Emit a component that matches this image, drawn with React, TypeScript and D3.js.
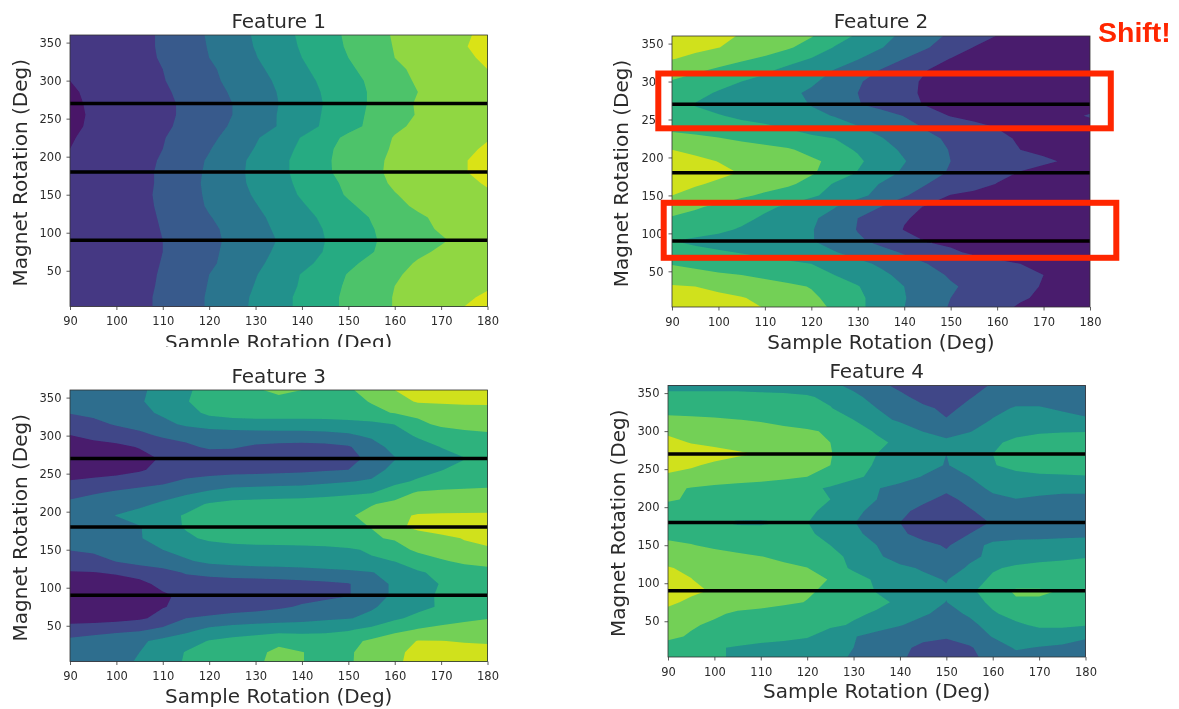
import React, { useRef, useEffect } from "react";
import * as d3 from "d3";

// grid the contour values were read on
const sampleGrid = [90, 95, 100, 105, 110, 115, 120, 125, 130, 135, 140, 145, 150, 155, 160, 165, 170, 175, 180];
const magnetGrid = [0, 15, 30, 45, 60, 75, 90, 105, 120, 135, 150, 165, 180, 195, 210, 225, 240, 255, 270, 285, 300, 315, 330, 345, 360];

const xTicks = [90, 100, 110, 120, 130, 140, 150, 160, 170, 180];
const yTicks = [50, 100, 150, 200, 250, 300, 350];
const magnetLines = [90, 180, 270];

// one row per magnet angle, values in contour-level units
const feature1 = [
  [1.2,1.4,1.5,1.75,2.2,2.6,3.1,3.6,4.2,4.7,5.2,5.7,6.2,6.6,7.05,7.3,7.6,8.05,8.4],
  [1.2,1.4,1.5,1.75,2.2,2.6,3.1,3.6,4.15,4.7,5.2,5.7,6.2,6.6,7.05,7.3,7.55,7.8,8.2],
  [1.2,1.4,1.5,1.7,2.15,2.55,3.05,3.5,4.05,4.6,5.1,5.6,6.15,6.55,7.0,7.25,7.45,7.65,7.85],
  [1.2,1.4,1.5,1.7,2.1,2.5,3.0,3.45,3.95,4.5,5.05,5.55,6.05,6.5,6.9,7.2,7.4,7.6,7.8],
  [1.2,1.4,1.5,1.65,2.05,2.45,2.85,3.3,3.8,4.3,4.75,5.25,5.8,6.25,6.65,7.1,7.35,7.6,7.8],
  [1.2,1.4,1.5,1.6,2.0,2.4,2.8,3.25,3.7,4.15,4.6,5.05,5.5,5.95,6.4,6.8,7.15,7.5,7.8],
  [1.2,1.4,1.5,1.6,2.0,2.4,2.75,3.2,3.6,4.05,4.5,5.0,5.55,5.9,6.3,6.6,6.9,7.25,7.6],
  [1.2,1.4,1.5,1.65,2.05,2.4,2.8,3.25,3.7,4.15,4.6,5.05,5.5,5.95,6.35,6.75,7.1,7.45,7.75],
  [1.2,1.4,1.5,1.7,2.1,2.55,2.95,3.35,3.8,4.25,4.75,5.15,5.6,6.05,6.45,6.85,7.2,7.5,7.8],
  [1.2,1.4,1.5,1.75,2.15,2.6,3.1,3.5,3.95,4.4,4.9,5.4,5.85,6.3,6.75,7.15,7.4,7.6,7.8],
  [1.2,1.4,1.5,1.75,2.2,2.65,3.15,3.6,4.1,4.6,5.1,5.6,6.1,6.5,6.95,7.3,7.5,7.65,7.85],
  [1.2,1.4,1.5,1.75,2.15,2.65,3.2,3.7,4.2,4.7,5.2,5.7,6.2,6.65,7.15,7.4,7.6,7.75,8.1],
  [1.2,1.4,1.5,1.75,2.15,2.65,3.15,3.7,4.25,4.75,5.3,5.85,6.35,6.75,7.25,7.45,7.7,7.95,8.3],
  [1.2,1.4,1.5,1.7,2.1,2.6,3.1,3.7,4.2,4.75,5.3,5.85,6.4,6.75,7.2,7.45,7.7,7.95,8.3],
  [1.0,1.3,1.5,1.65,2.0,2.45,2.95,3.5,4.05,4.6,5.2,5.8,6.35,6.7,7.1,7.35,7.6,7.85,8.1],
  [0.9,1.3,1.5,1.6,1.95,2.35,2.8,3.3,3.9,4.5,5.05,5.65,6.2,6.6,7.05,7.3,7.55,7.75,7.95],
  [0.6,1.3,1.5,1.6,1.85,2.2,2.65,3.1,3.55,4.05,4.6,5.15,5.7,6.2,6.85,7.15,7.4,7.65,7.85],
  [0.5,1.25,1.5,1.6,1.8,2.15,2.55,3.0,3.5,4.05,4.55,5.1,5.65,6.15,6.7,7.05,7.3,7.55,7.8],
  [0.6,1.3,1.5,1.6,1.8,2.15,2.6,3.0,3.5,4.0,4.55,5.05,5.6,6.1,6.6,7.1,7.35,7.6,7.8],
  [0.8,1.3,1.5,1.6,1.85,2.25,2.65,3.1,3.55,4.05,4.6,5.1,5.6,6.1,6.55,7.0,7.3,7.55,7.8],
  [1.0,1.3,1.5,1.6,1.95,2.35,2.8,3.2,3.65,4.15,4.7,5.2,5.7,6.15,6.7,7.1,7.35,7.6,7.8],
  [1.2,1.4,1.5,1.65,2.0,2.45,2.85,3.3,3.8,4.3,4.85,5.35,5.85,6.3,6.85,7.15,7.4,7.65,8.0],
  [1.2,1.4,1.5,1.7,2.1,2.55,3.0,3.5,3.95,4.5,5.0,5.5,6.0,6.5,7.0,7.3,7.55,7.85,8.15],
  [1.2,1.4,1.5,1.7,2.15,2.6,3.05,3.55,4.05,4.55,5.1,5.6,6.1,6.55,7.05,7.35,7.65,7.95,8.3],
  [1.2,1.4,1.5,1.7,2.15,2.6,3.1,3.6,4.1,4.65,5.15,5.65,6.15,6.6,7.1,7.4,7.65,7.9,8.2],
];

const feature2 = [
  [6.6,6.45,6.3,6.15,6.0,5.65,5.3,4.9,4.2,3.6,3.0,2.45,1.9,1.55,1.2,0.85,0.6,0.4,0.3],
  [6.5,6.35,6.2,6.05,5.8,5.45,5.15,4.75,4.2,3.6,3.05,2.5,2.0,1.7,1.4,1.1,0.85,0.6,0.4],
  [6.1,6.0,5.8,5.6,5.4,5.2,4.95,4.45,4.05,3.45,3.0,2.55,2.1,1.8,1.5,1.2,0.95,0.65,0.45],
  [5.4,5.25,5.1,5.0,4.8,4.55,4.25,4.0,3.6,3.2,2.75,2.3,1.9,1.65,1.45,1.25,1.0,0.7,0.45],
  [4.95,4.8,4.65,4.5,4.35,4.2,4.0,3.65,3.25,2.85,2.4,2.0,1.7,1.45,1.2,1.0,0.75,0.55,0.4],
  [4.3,4.2,4.1,3.95,3.75,3.5,3.3,3.05,2.65,2.3,1.9,1.45,1.15,0.85,0.65,0.5,0.4,0.3,0.3],
  [4.02,3.85,3.65,3.5,3.35,3.2,3.05,2.65,2.15,1.75,1.35,0.95,0.8,0.6,0.5,0.4,0.35,0.3,0.3],
  [4.5,4.35,4.2,3.9,3.75,3.5,3.05,2.6,1.95,1.45,0.97,0.8,0.65,0.5,0.4,0.35,0.3,0.3,0.3],
  [4.95,4.75,4.5,4.25,3.85,3.5,3.15,2.65,2.0,1.55,1.05,0.85,0.7,0.55,0.45,0.35,0.3,0.3,0.3],
  [5.25,5.1,4.85,4.5,4.2,3.85,3.45,3.05,2.45,2.0,1.35,0.9,0.75,0.6,0.45,0.35,0.3,0.3,0.3],
  [6.0,5.7,5.4,5.15,4.85,4.5,4.15,3.7,3.25,2.7,2.1,1.5,0.95,0.75,0.6,0.45,0.35,0.3,0.3],
  [6.3,6.1,5.85,5.6,5.4,5.15,4.7,3.9,3.45,2.95,2.5,2.0,1.7,1.35,0.97,0.75,0.6,0.45,0.35],
  [6.6,6.4,6.2,5.95,5.65,5.35,5.1,4.65,3.95,3.4,2.85,2.35,1.9,1.6,1.25,0.95,0.7,0.5,0.35],
  [6.5,6.2,5.98,5.75,5.55,5.35,5.15,4.8,4.2,3.45,3.05,2.45,2.0,1.75,1.55,1.35,1.15,0.9,0.6],
  [6.0,5.8,5.6,5.4,5.25,5.1,4.75,4.35,3.9,3.35,2.85,2.4,1.95,1.65,1.3,1.0,0.8,0.6,0.4],
  [5.4,5.25,5.05,4.85,4.7,4.5,4.2,4.0,3.5,3.05,2.65,2.2,1.85,1.6,1.2,0.9,0.7,0.5,0.4],
  [4.7,4.55,4.4,4.25,4.15,3.9,3.6,3.3,3.05,2.7,2.3,1.9,1.6,1.25,0.97,0.7,0.5,0.4,0.35],
  [4.4,4.25,4.05,3.85,3.65,3.4,3.15,2.97,2.65,2.35,1.97,1.45,0.95,0.75,0.6,0.5,0.4,0.6,1.15],
  [4.15,3.95,3.7,3.5,3.35,3.2,2.97,2.6,2.05,1.7,1.3,0.9,0.8,0.65,0.5,0.4,0.35,0.3,0.3],
  [4.6,4.3,3.9,3.6,3.4,3.2,2.85,2.45,2.0,1.6,1.2,0.85,0.7,0.55,0.45,0.35,0.3,0.3,0.3],
  [4.95,4.65,4.35,4.0,3.7,3.45,3.15,2.65,2.1,1.65,1.25,0.85,0.7,0.55,0.45,0.35,0.3,0.3,0.3],
  [5.35,5.15,4.85,4.5,4.2,3.7,3.35,2.97,2.45,1.95,1.45,1.0,0.8,0.65,0.5,0.4,0.3,0.3,0.3],
  [6.05,5.75,5.45,5.15,4.85,4.45,3.95,3.45,3.05,2.5,2.0,1.5,0.97,0.8,0.65,0.5,0.4,0.3,0.3],
  [6.4,6.25,6.02,5.7,5.45,5.1,4.65,3.95,3.5,3.05,2.5,2.05,1.5,0.97,0.8,0.6,0.45,0.35,0.3],
  [6.5,6.35,6.15,5.95,5.7,5.4,5.05,4.5,3.85,3.3,2.8,2.3,1.85,1.45,0.97,0.8,0.6,0.45,0.35],
];

const feature3 = [
  [2.4,2.6,2.8,3.1,3.6,4.1,4.4,4.6,4.9,5.2,5.02,4.8,4.9,5.35,5.85,6.3,6.5,6.6,6.6],
  [2.4,2.6,2.8,3.0,3.5,4.05,4.35,4.6,4.85,5.15,5.02,4.8,4.9,5.3,5.8,6.25,6.4,6.4,6.35],
  [2.2,2.4,2.6,2.85,3.25,3.6,4.05,4.3,4.5,4.85,4.7,4.6,4.75,5.15,5.65,6.03,6.02,5.93,5.88],
  [1.5,1.6,1.75,1.85,2.2,2.7,3.2,3.4,3.5,3.6,3.6,3.7,3.9,4.25,4.7,5.05,5.3,5.5,5.7],
  [0.5,0.55,0.65,0.85,1.3,2.0,2.2,2.4,2.5,2.6,2.7,2.85,2.95,3.2,3.85,4.25,4.5,4.75,4.95],
  [0.3,0.35,0.45,0.6,0.95,1.25,1.3,1.5,1.65,1.85,2.1,2.3,2.6,2.9,3.3,3.75,4.1,4.45,4.7],
  [0.2,0.3,0.45,0.6,0.9,1.15,1.25,1.4,1.5,1.6,1.7,1.8,1.95,2.45,3.2,3.65,4.15,4.5,4.7],
  [0.3,0.45,0.6,0.8,1.2,1.4,1.5,1.55,1.6,1.65,1.7,1.8,1.95,2.45,3.2,3.6,4.05,4.4,4.6],
  [0.95,0.97,1.1,1.3,1.6,2.1,2.3,2.4,2.45,2.5,2.6,2.7,2.8,2.95,3.4,3.9,4.2,4.45,4.65],
  [1.4,1.6,2.05,2.4,2.7,2.9,3.2,3.35,3.45,3.5,3.5,3.6,3.7,3.85,4.02,4.45,4.9,5.2,5.35],
  [2.05,2.2,2.4,2.7,3.0,3.3,3.45,3.55,3.6,3.6,3.65,3.7,3.85,4.15,4.6,5.2,5.45,5.75,5.9],
  [2.3,2.5,2.7,2.95,3.35,3.8,4.2,4.4,4.5,4.55,4.6,4.7,4.8,4.9,5.1,5.45,5.75,6.05,6.2],
  [2.3,2.5,2.7,2.95,3.5,4.1,4.35,4.5,4.55,4.6,4.65,4.8,4.85,5.02,5.75,6.25,6.5,6.6,6.65],
  [2.4,2.7,3.02,3.35,3.65,4.1,4.35,4.5,4.55,4.6,4.65,4.75,4.9,5.25,5.75,6.1,6.15,6.15,6.15],
  [2.3,2.5,2.65,2.8,3.15,3.6,4.1,4.3,4.35,4.4,4.4,4.5,4.7,4.95,5.2,5.3,5.4,5.45,5.5],
  [1.55,1.9,2.15,2.4,2.6,2.85,3.15,3.4,3.5,3.55,3.6,3.7,3.8,3.95,4.6,5.1,5.2,5.25,5.3],
  [1.05,1.2,1.35,1.5,1.75,2.2,2.4,2.5,2.55,2.6,2.65,2.8,2.95,3.1,3.7,4.15,4.4,4.5,4.6],
  [0.5,0.55,0.65,0.9,1.25,1.4,1.55,1.65,1.7,1.75,1.8,1.9,2.0,2.65,3.25,3.6,3.97,4.25,4.45],
  [0.25,0.3,0.45,0.7,1.1,1.3,1.4,1.45,1.5,1.55,1.6,1.7,1.75,2.2,2.95,3.3,3.65,3.97,4.2],
  [0.6,0.7,0.8,1.05,1.35,1.8,2.15,2.1,1.85,1.7,1.65,1.7,1.9,2.6,3.3,3.65,4.02,4.3,4.45],
  [0.97,1.2,1.4,1.7,2.15,2.3,2.45,2.5,2.55,2.6,2.6,2.7,2.85,3.15,3.65,4.1,4.4,4.6,4.75],
  [1.5,1.7,2.1,2.4,2.75,3.15,3.4,3.5,3.55,3.55,3.55,3.55,3.6,3.75,4.02,4.75,5.2,5.4,5.55],
  [2.05,2.25,2.5,2.75,3.15,3.65,4.2,4.4,4.5,4.5,4.5,4.55,4.65,4.8,5.05,5.25,5.4,5.5,5.55],
  [2.3,2.5,2.7,2.9,3.4,3.95,4.35,4.5,4.6,4.75,4.65,4.6,4.75,5.05,5.6,6.1,6.15,6.2,6.2],
  [2.4,2.6,2.8,2.85,3.3,3.9,4.25,4.5,4.9,5.2,5.0,4.8,4.9,5.3,6.0,6.3,6.5,6.55,6.6],
];

const feature4 = [
  [4.6,4.4,4.15,3.85,3.7,3.5,3.4,3.2,2.9,2.4,2.1,1.7,1.4,1.75,2.3,2.6,2.7,2.6,2.5],
  [4.6,4.4,4.1,3.9,3.7,3.55,3.4,3.2,3.0,2.5,2.2,1.8,1.6,1.9,2.5,3.1,2.95,2.8,2.7],
  [5.2,4.9,4.7,4.5,4.4,4.3,4.1,3.45,3.05,2.7,2.4,2.2,2.1,2.4,3.05,3.3,3.5,3.5,3.1],
  [5.5,5.1,4.85,4.7,4.6,4.45,4.3,4.2,3.9,3.4,3.05,2.7,2.5,2.8,3.3,3.85,4.15,4.15,4.05],
  [5.7,5.5,5.15,4.85,4.75,4.6,4.5,4.35,4.15,3.9,3.5,3.1,2.75,3.1,3.9,4.3,4.4,4.4,4.4],
  [6.2,5.8,5.6,5.45,5.3,5.15,4.97,4.75,4.5,4.2,3.85,3.4,2.98,3.6,4.2,4.85,4.85,4.7,4.6],
  [6.5,6.2,5.9,5.7,5.5,5.3,5.1,4.85,4.45,3.95,3.6,3.3,3.1,3.8,4.5,5.15,5.15,4.95,4.8],
  [6.3,6.02,5.7,5.55,5.4,5.3,5.2,4.97,4.4,3.85,3.5,3.2,2.95,3.6,4.15,4.35,4.35,4.3,4.3],
  [6.05,5.85,5.65,5.5,5.35,5.2,5.02,4.45,3.85,3.5,3.2,2.9,2.3,3.2,3.9,4.15,4.25,4.3,4.35],
  [5.7,5.6,5.4,5.2,5.02,4.8,4.5,4.25,3.8,3.15,2.6,2.4,2.2,2.7,3.3,3.6,3.75,3.85,3.95],
  [5.3,5.05,4.8,4.6,4.5,4.35,4.2,4.0,3.5,3.0,2.6,2.3,1.9,2.5,3.3,3.45,3.5,3.6,3.75],
  [4.6,4.55,4.45,4.35,4.3,4.2,4.1,3.8,3.2,2.7,2.2,1.6,1.3,2.0,2.3,2.5,2.55,2.6,2.65],
  [4.4,4.3,4.1,3.9,3.9,4.02,4.02,3.6,3.05,2.5,2.0,1.6,1.2,1.5,2.1,2.4,2.45,2.5,2.55],
  [4.6,4.55,4.5,4.45,4.4,4.3,4.15,3.8,3.25,2.7,2.25,1.7,1.3,1.9,2.4,2.6,2.65,2.65,2.65],
  [5.1,4.9,4.8,4.7,4.6,4.5,4.3,4.0,3.5,3.0,2.6,2.2,1.75,2.25,2.75,2.97,2.9,2.9,2.95],
  [5.2,4.95,4.8,4.7,4.6,4.4,4.2,3.9,3.45,3.05,2.7,2.4,2.2,2.6,3.2,3.35,3.2,3.1,3.05],
  [5.8,5.7,5.5,5.4,5.3,5.2,5.0,4.6,4.2,3.75,3.4,2.95,2.5,3.0,3.55,3.75,3.85,3.9,3.95],
  [6.4,6.1,5.85,5.7,5.6,5.4,5.2,5.0,4.55,3.85,3.5,3.3,2.95,3.35,3.95,4.25,4.4,4.4,4.4],
  [6.7,6.5,6.3,6.1,5.95,5.6,5.3,5.05,4.5,4.0,3.7,3.4,3.0,3.4,4.0,4.4,4.55,4.55,4.55],
  [6.3,5.95,5.8,5.7,5.6,5.45,5.25,5.0,4.6,4.2,3.8,3.5,3.25,3.5,3.85,4.2,4.35,4.35,4.35],
  [5.8,5.75,5.65,5.5,5.4,5.25,5.1,4.9,4.4,3.9,3.5,2.97,2.6,2.95,3.4,3.75,3.9,3.95,3.97],
  [5.35,5.25,5.15,5.02,4.9,4.7,4.55,4.3,4.0,3.3,2.85,2.5,2.05,2.5,3.05,3.4,3.5,3.4,3.15],
  [4.45,4.45,4.4,4.35,4.35,4.3,4.2,4.05,3.5,3.0,2.6,2.2,1.8,2.2,2.7,3.1,3.1,2.85,2.6],
  [4.3,4.3,4.3,4.3,4.25,4.2,4.1,3.8,3.2,2.7,2.25,1.65,1.4,1.95,2.3,2.55,2.55,2.5,2.45],
  [3.7,3.7,3.7,3.7,3.65,3.6,3.5,3.2,2.8,2.3,1.75,1.6,1.4,1.6,2.1,2.3,2.4,2.4,2.3],
];

const panels = [
  { title: "Feature 1", values: feature1, bands: 9, left: 70, right: 487.5, top: 35, bottom: 306.5, titleY: 28, xLabelY: 349, yLabelX: 27, clipBottom: 347 },
  { title: "Feature 2", values: feature2, bands: 7, left: 672, right: 1090, top: 36, bottom: 307, titleY: 28, xLabelY: 349, yLabelX: 628, clipBottom: 709 },
  { title: "Feature 3", values: feature3, bands: 7, left: 70, right: 487.5, top: 390, bottom: 661.5, titleY: 383, xLabelY: 703, yLabelX: 27, clipBottom: 709 },
  { title: "Feature 4", values: feature4, bands: 7, left: 668, right: 1085.5, top: 385.5, bottom: 657, titleY: 378, xLabelY: 698, yLabelX: 625, clipBottom: 709 },
];

const shiftBoxes = [
  { x: 658.3, y: 73.5, width: 452.5, height: 54.8, mask: 9 },
  { x: 663.7, y: 202.8, width: 452.6, height: 55, mask: 0 },
];

const FONT = "'DejaVu Sans', sans-serif";
const TEXT_COLOR = "#2b2b2b";
const RED = "#ff2600";

const App = () => {
  const container = useRef<SVGSVGElement | null>(null);

  useEffect(() => {
    if (!container.current) return;
    const svg = d3.select(container.current);
    svg.selectAll("*").remove();

    const defs = svg.append("defs");
    defs
      .append("filter")
      .attr("id", "soft")
      .attr("x", 0)
      .attr("y", 0)
      .attr("width", 1)
      .attr("height", 1)
      .append("feGaussianBlur")
      .attr("stdDeviation", 0.55);

    const root = svg.append("g").attr("filter", "url(#soft)");
    root.append("rect").attr("width", 1179).attr("height", 709).attr("fill", "#fff");

    // grid cell coordinates from d3.contours back to degrees
    const colToDeg = d3.scaleLinear().domain([0.5, sampleGrid.length - 0.5]).range([sampleGrid[0], sampleGrid[sampleGrid.length - 1]]);
    const rowToDeg = d3.scaleLinear().domain([0.5, magnetGrid.length - 0.5]).range([magnetGrid[0], magnetGrid[magnetGrid.length - 1]]);

    panels.forEach((p, idx) => {
      const x = d3.scaleLinear().domain([90, 180]).range([p.left, p.right]);
      const y = d3.scaleLinear().domain([3, 360]).range([p.bottom, p.top]);
      const color = (band: number) => d3.interpolateViridis((band + 0.5) / p.bands);

      defs
        .append("clipPath")
        .attr("id", `plot-${idx}`)
        .append("rect")
        .attr("x", p.left)
        .attr("y", p.top)
        .attr("width", p.right - p.left)
        .attr("height", p.bottom - p.top);
      defs
        .append("clipPath")
        .attr("id", `page-${idx}`)
        .append("rect")
        .attr("width", 1179)
        .attr("height", p.clipBottom);

      const panel = root.append("g").attr("clip-path", `url(#page-${idx})`);
      const plot = panel.append("g").attr("clip-path", `url(#plot-${idx})`);

      plot
        .append("rect")
        .attr("x", p.left)
        .attr("y", p.top)
        .attr("width", p.right - p.left)
        .attr("height", p.bottom - p.top)
        .attr("fill", color(0));

      const contours = d3
        .contours()
        .size([sampleGrid.length, magnetGrid.length])
        .thresholds(d3.range(1, p.bands))(p.values.flat());

      const path = d3.geoPath(
        d3.geoTransform({
          point(px: number, py: number) {
            this.stream.point(x(colToDeg(px)), y(rowToDeg(py)));
          },
        })
      );

      plot
        .selectAll("path")
        .data(contours)
        .enter()
        .append("path")
        .attr("d", (d: any) => path(d))
        .attr("fill", (d: any) => color(d.value));

      plot
        .selectAll("line")
        .data(magnetLines)
        .enter()
        .append("line")
        .attr("x1", p.left)
        .attr("x2", p.right)
        .attr("y1", (d) => y(d))
        .attr("y2", (d) => y(d))
        .attr("stroke", "#000")
        .attr("stroke-width", 3.5);

      panel
        .append("rect")
        .attr("x", p.left)
        .attr("y", p.top)
        .attr("width", p.right - p.left)
        .attr("height", p.bottom - p.top)
        .attr("fill", "none")
        .attr("stroke", "#333")
        .attr("stroke-width", 0.8);

      const xAxis = panel
        .append("g")
        .attr("transform", `translate(0,${p.bottom})`)
        .call(d3.axisBottom(x).tickValues(xTicks).tickSize(3.5).tickPadding(7));
      const yAxis = panel
        .append("g")
        .attr("transform", `translate(${p.left},0)`)
        .call(d3.axisLeft(y).tickValues(yTicks).tickSize(3.5).tickPadding(5));

      [xAxis, yAxis].forEach((axis) => {
        axis.select(".domain").remove();
        axis.selectAll("line").attr("stroke", "#333").attr("stroke-width", 0.8);
        axis
          .selectAll("text")
          .attr("fill", TEXT_COLOR)
          .style("font-family", FONT)
          .style("font-size", "11.5px");
      });

      const mid = (p.left + p.right) / 2;
      panel
        .append("text")
        .attr("x", mid)
        .attr("y", p.titleY)
        .attr("text-anchor", "middle")
        .attr("fill", TEXT_COLOR)
        .style("font-family", FONT)
        .style("font-size", "20px")
        .text(p.title);
      panel
        .append("text")
        .attr("x", mid)
        .attr("y", p.xLabelY)
        .attr("text-anchor", "middle")
        .attr("fill", TEXT_COLOR)
        .style("font-family", FONT)
        .style("font-size", "20px")
        .text("Sample Rotation (Deg)");
      panel
        .append("text")
        .attr("transform", `translate(${p.yLabelX},${(p.top + p.bottom) / 2 + 2}) rotate(-90)`)
        .attr("text-anchor", "middle")
        .attr("fill", TEXT_COLOR)
        .style("font-family", FONT)
        .style("font-size", "20px")
        .text("Magnet Rotation (Deg)");
    });

    // the screenshot's annotation hides the last digit of the labels inside the top box
    root
      .selectAll("rect.shift-mask")
      .data(shiftBoxes.filter((d) => d.mask > 0))
      .enter()
      .append("rect")
      .attr("class", "shift-mask")
      .attr("x", (d) => d.x)
      .attr("y", (d) => d.y)
      .attr("width", (d) => d.mask)
      .attr("height", (d) => d.height)
      .attr("fill", "#fff");

    root
      .selectAll("rect.shift")
      .data(shiftBoxes)
      .enter()
      .append("rect")
      .attr("class", "shift")
      .attr("x", (d) => d.x)
      .attr("y", (d) => d.y)
      .attr("width", (d) => d.width)
      .attr("height", (d) => d.height)
      .attr("fill", "none")
      .attr("stroke", RED)
      .attr("stroke-width", 6);

    root
      .append("text")
      .attr("x", 1098)
      .attr("y", 41.5)
      .attr("fill", RED)
      .style("font-family", "'Liberation Sans', sans-serif")
      .style("font-weight", "bold")
      .style("font-size", "28.5px")
      .text("Shift!");
  }, []);

  return (
    <svg
      ref={container}
      width={1179}
      height={709}
      style={{ position: "absolute", left: 0, top: 0, display: "block" }}
    />
  );
};

export default App;
